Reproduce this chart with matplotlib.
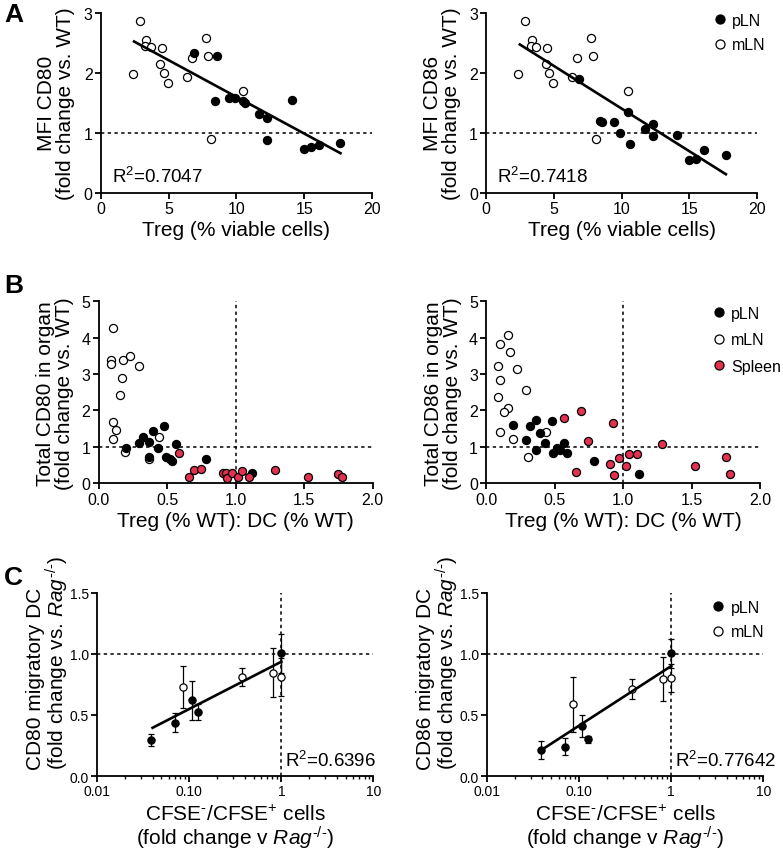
#!/usr/bin/env python3
"""Treg vs. DC costimulatory molecule expression: panels A-C."""

import matplotlib.pyplot as plt
from matplotlib.lines import Line2D
from matplotlib.ticker import FixedLocator, FixedFormatter, LogLocator, NullFormatter

plt.rcParams["font.family"] = ["Liberation Sans", "DejaVu Sans"]
plt.rcParams["mathtext.fontset"] = "custom"
plt.rcParams["mathtext.rm"] = "Liberation Sans"
plt.rcParams["mathtext.it"] = "Liberation Sans:italic"

RED = "#e3314f"

# ---- Panel A: MFI vs Treg (% viable cells) ----
mln_treg = [2.38, 2.89, 3.35, 3.28, 3.67, 4.47, 4.38, 4.63, 4.93, 6.36, 6.70, 7.75, 7.89, 10.50, 8.12]
mln_cd80_mfi = [1.98, 2.86, 2.55, 2.44, 2.43, 2.41, 2.14, 2.00, 1.83, 1.93, 2.25, 2.58, 2.28, 1.69, 0.89]
mln_cd86_mfi = [1.98, 2.86, 2.55, 2.44, 2.43, 2.41, 2.14, 2.00, 1.83, 1.93, 2.25, 2.58, 2.28, 1.69, 0.89]
pln_treg = [6.88, 8.40, 8.58, 9.45, 9.88, 10.50, 10.60, 11.70, 12.28, 12.28, 14.10, 15.00, 15.48, 16.10, 17.68]
pln_cd80_mfi = [2.33, 1.53, 2.28, 1.58, 1.58, 1.53, 1.50, 1.31, 1.25, 0.88, 1.54, 0.73, 0.76, 0.79, 0.83]
pln_cd86_mfi = [1.90, 1.19, 1.18, 1.18, 1.00, 1.34, 0.81, 1.07, 1.14, 0.95, 0.96, 0.55, 0.57, 0.71, 0.63]
fit_a80_x, fit_a80_y = [2.44, 17.68], [2.52, 0.66]
fit_a86_x, fit_a86_y = [2.48, 17.69], [2.47, 0.31]

# ---- Panel B: total in organ vs Treg:DC ratio ----
b80_mln_x = [0.104, 0.092, 0.092, 0.177, 0.231, 0.294, 0.168, 0.158, 0.104, 0.129, 0.104, 0.194, 0.367, 0.440]
b80_mln_y = [4.28, 3.39, 3.27, 3.39, 3.49, 3.23, 2.90, 2.42, 1.67, 1.47, 1.21, 0.86, 0.66, 1.28]
b80_pln_x = [0.197, 0.294, 0.323, 0.367, 0.367, 0.396, 0.433, 0.476, 0.493, 0.518, 0.537, 0.566, 0.785, 1.120]
b80_pln_y = [0.98, 1.10, 1.26, 1.14, 0.73, 1.44, 0.97, 1.58, 0.72, 0.66, 0.61, 1.07, 0.66, 0.28]
b80_spl_x = [0.585, 0.661, 0.693, 0.749, 0.906, 0.930, 0.940, 0.972, 1.020, 1.047, 1.100, 1.286, 1.529, 1.747, 1.776]
b80_spl_y = [0.83, 0.16, 0.35, 0.40, 0.27, 0.29, 0.15, 0.29, 0.18, 0.33, 0.18, 0.36, 0.17, 0.25, 0.16]

b86_mln_x = [0.161, 0.097, 0.173, 0.088, 0.227, 0.100, 0.290, 0.085, 0.156, 0.129, 0.100, 0.192, 0.438, 0.302]
b86_mln_y = [4.07, 3.83, 3.60, 3.23, 3.14, 2.84, 2.57, 2.38, 2.06, 1.96, 1.41, 1.21, 1.42, 0.72]
b86_pln_x = [0.192, 0.319, 0.363, 0.290, 0.363, 0.390, 0.429, 0.477, 0.490, 0.519, 0.536, 0.565, 0.592, 0.787, 1.116]
b86_pln_y = [1.61, 1.56, 1.74, 1.18, 0.90, 1.39, 1.11, 1.72, 0.83, 0.97, 0.91, 1.11, 0.82, 0.61, 0.24]
b86_spl_x = [0.570, 0.692, 0.745, 0.658, 0.928, 0.904, 0.970, 0.935, 1.023, 1.045, 1.101, 1.286, 1.523, 1.747, 1.776]
b86_spl_y = [1.79, 1.99, 1.17, 0.32, 1.65, 0.52, 0.68, 0.22, 0.46, 0.81, 0.81, 1.07, 0.48, 0.72, 0.26]

# ---- Panel C: migratory DC vs CFSE ratio (log x) ----
cfse_pln = [0.0387, 0.0707, 0.1075, 0.1255, 1.0]
cfse_mln = [0.0858, 0.374, 0.81, 1.0]
c80_pln = [0.295, 0.437, 0.620, 0.527, 1.004]
c80_pln_sem = [0.050, 0.075, 0.160, 0.065, 0.160]
c80_mln = [0.728, 0.810, 0.843, 0.808]
c80_mln_sem = [0.175, 0.077, 0.200, 0.155]
c86_pln = [0.213, 0.240, 0.409, 0.300, 1.004]
c86_pln_sem = [0.075, 0.070, 0.088, 0.027, 0.120]
c86_mln = [0.587, 0.715, 0.791, 0.800]
c86_mln_sem = [0.225, 0.082, 0.180, 0.115]
fit_c80_x, fit_c80_y = [0.040, 1.0], [0.395, 0.935]
fit_c86_x, fit_c86_y = [0.0374, 1.0], [0.205, 0.900]

LABEL_FS = 15
TICK_FS = 11.5
DOT = (0, (2.2, 2.2))
RAG = r"$\mathit{Rag}^{\text{-/-}}$"


def style(ax, tick_fs=TICK_FS):
    for s in ("top", "right"):
        ax.spines[s].set_visible(False)
    for s in ("left", "bottom"):
        ax.spines[s].set_linewidth(1.3)
    ax.tick_params(which="major", direction="out", length=4, width=1.3,
                   labelsize=tick_fs, pad=2)
    ax.tick_params(which="minor", direction="out", length=2.5, width=1.0)


def pts(ax, x, y, face, s=34):
    ax.scatter(x, y, s=s, facecolor=face, edgecolor="black", linewidth=0.9,
               zorder=4, clip_on=False)


def legend(ax, labels, faces, anchor, spacing):
    handles = [Line2D([], [], ls="", marker="o", ms=6.5, mfc=f, mec="black", mew=0.9)
               for f in faces]
    ax.legend(handles, labels, loc="upper left", bbox_to_anchor=anchor,
              frameon=False, fontsize=11.5, handletextpad=0.2, handlelength=1.2,
              labelspacing=spacing, borderaxespad=0, borderpad=0)


fig = plt.figure(figsize=(7.83, 8.54), dpi=100)

# ---- A ----
for i, (mfi_m, mfi_p, fx, fy, mol, r2) in enumerate([
        (mln_cd80_mfi, pln_cd80_mfi, fit_a80_x, fit_a80_y, "CD80", "0.7047"),
        (mln_cd86_mfi, pln_cd86_mfi, fit_a86_x, fit_a86_y, "CD86", "0.7418")]):
    left = [0.129, 0.621][i]
    ax = fig.add_axes([left, 0.773, 0.346, 0.211])
    style(ax)
    ax.axhline(1, color="black", ls=DOT, lw=1.1, zorder=1)
    pts(ax, mln_treg, mfi_m, "white")
    pts(ax, pln_treg, mfi_p, "black")
    ax.plot(fx, fy, color="black", lw=1.9, zorder=5)
    ax.set_xlim(0, 20)
    ax.set_ylim(0, 3)
    ax.set_xticks([0, 5, 10, 15, 20])
    ax.set_yticks([0, 1, 2, 3])
    ax.set_xlabel("Treg (% viable cells)", fontsize=LABEL_FS, labelpad=3)
    ax.set_ylabel(f"MFI {mol}\n(fold change vs. WT)", fontsize=LABEL_FS,
                  linespacing=1.0, labelpad=6)
    ax.text(0.04, 0.04, f"R$^2$={r2}", transform=ax.transAxes, fontsize=13.5,
            ha="left", va="bottom")
    if i == 1:
        legend(ax, ["pLN", "mLN"], ["black", "white"], (0.826, 1.0), 0.6)

# ---- B ----
for i, (mx, my, px, py, sx, sy, mol) in enumerate([
        (b80_mln_x, b80_mln_y, b80_pln_x, b80_pln_y, b80_spl_x, b80_spl_y, "CD80"),
        (b86_mln_x, b86_mln_y, b86_pln_x, b86_pln_y, b86_spl_x, b86_spl_y, "CD86")]):
    left = [0.126, 0.621][i]
    ax = fig.add_axes([left, 0.433, 0.350, 0.213])
    style(ax)
    ax.axhline(1, color="black", ls=DOT, lw=1.1, zorder=1)
    ax.axvline(1, color="black", ls=DOT, lw=1.1, zorder=1)
    pts(ax, mx, my, "white")
    pts(ax, px, py, "black")
    pts(ax, sx, sy, RED)
    ax.set_xlim(0, 2)
    ax.set_ylim(0, 5)
    ax.set_xticks([0, 0.5, 1.0, 1.5, 2.0])
    ax.set_xticklabels(["0.0", "0.5", "1.0", "1.5", "2.0"])
    ax.set_yticks([0, 1, 2, 3, 4, 5])
    ax.set_xlabel("Treg (% WT): DC (% WT)", fontsize=LABEL_FS, labelpad=3)
    ax.set_ylabel(f"Total {mol} in organ\n(fold change vs. WT)", fontsize=LABEL_FS,
                  linespacing=1.0, labelpad=5)
    if i == 1:
        legend(ax, ["pLN", "mLN", "Spleen"], ["black", "white", RED], (0.813, 0.975), 0.72)

# ---- C ----
for i, (yp, ep, ym, em, fx, fy, mol, r2) in enumerate([
        (c80_pln, c80_pln_sem, c80_mln, c80_mln_sem, fit_c80_x, fit_c80_y, "CD80", "0.6396"),
        (c86_pln, c86_pln_sem, c86_mln, c86_mln_sem, fit_c86_x, fit_c86_y, "CD86", "0.77642")]):
    left = [0.124, 0.622][i]
    ax = fig.add_axes([left, 0.090, 0.353, 0.215])
    style(ax, tick_fs=10)
    ax.set_xscale("log")
    ax.axhline(1, color="black", ls=DOT, lw=1.1, zorder=1)
    ax.axvline(1, color="black", ls=DOT, lw=1.1, zorder=1)
    kw = dict(fmt="o", ms=5.2, mec="black", mew=0.9, ecolor="black",
              elinewidth=0.9, capsize=2.2, capthick=0.9, zorder=4)
    ax.errorbar(cfse_mln, ym, yerr=em, mfc="white", **kw)
    ax.errorbar(cfse_pln, yp, yerr=ep, mfc="black", **kw)
    ax.plot(fx, fy, color="black", lw=1.9, zorder=5)
    ax.set_xlim(0.01, 10)
    ax.set_ylim(0, 1.5)
    ax.xaxis.set_major_locator(FixedLocator([0.01, 0.1, 1, 10]))
    ax.xaxis.set_major_formatter(FixedFormatter(["0.01", "0.10", "1", "10"]))
    ax.xaxis.set_minor_locator(LogLocator(base=10, subs=range(2, 10)))
    ax.xaxis.set_minor_formatter(NullFormatter())
    ax.set_yticks([0, 0.5, 1.0, 1.5])
    ax.set_yticklabels(["0.0", "0.5", "1.0", "1.5"])
    ax.set_xlabel("CFSE$^{\\text{-}}$/CFSE$^{+}$ cells\n(fold change v " + RAG + ")",
                  fontsize=LABEL_FS, linespacing=1.0, labelpad=4)
    ax.set_ylabel(f"{mol} migratory DC\n(fold change vs. " + RAG + ")",
                  fontsize=LABEL_FS, linespacing=0.95, multialignment="left")
    ax.yaxis.set_label_coords(-0.095, 0.62)
    ax.text(1.1, 0.05, f"R$^2$={r2}", fontsize=13.5, ha="left", va="bottom")
    if i == 1:
        legend(ax, ["pLN", "mLN"], ["black", "white"], (0.80, 0.96), 0.6)

for letter, y in (("A", 22), ("B", 293), ("C", 585)):
    fig.text(4 / 783, 1 - y / 854, letter, fontsize=19, fontweight="bold",
             ha="left", va="baseline")

fig.savefig("out.png", dpi=100)
